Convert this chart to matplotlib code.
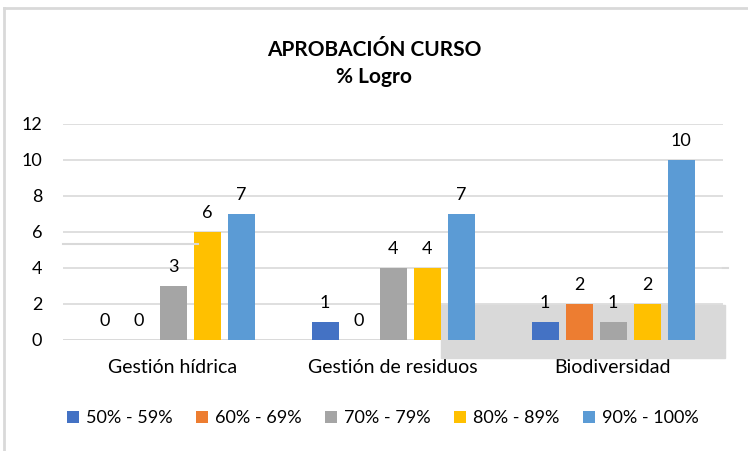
import numpy as np
import matplotlib.pyplot as plt
from matplotlib.patches import Rectangle
from matplotlib.lines import Line2D

plt.rcParams['font.family'] = ['Lato', 'DejaVu Sans']

categorias = ['Gestión hídrica', 'Gestión de residuos', 'Biodiversidad']
rangos = ['50% - 59%', '60% - 69%', '70% - 79%', '80% - 89%', '90% - 100%']
r50 = [0, 1, 1]
r60 = [0, 0, 2]
r70 = [3, 4, 1]
r80 = [6, 4, 2]
r90 = [7, 7, 10]
colores = ['#4472C4', '#ED7D31', '#A5A5A5', '#FFC000', '#5B9BD5']

series = [r50, r60, r70, r80, r90]

fig = plt.figure(figsize=(7.48, 4.51), dpi=100)
ax = fig.add_axes([63 / 748, 111 / 451, 660 / 748, 216 / 451])

# marco del grafico
fig.add_artist(Line2D([4 / 748, 4 / 748], [0, 1 - 8 / 451], color='#d9d9d9', lw=2))
fig.add_artist(Line2D([4 / 748, 1], [1 - 8 / 451, 1 - 8 / 451], color='#d9d9d9', lw=2))

x = np.arange(len(categorias))
ancho = 27 / 220
paso = 34 / 220
for i, (vals, color, nombre) in enumerate(zip(series, colores, rangos)):
    pos = x + (i - 2) * paso
    barras = ax.bar(pos, vals, width=ancho, color=color, label=nombre, zorder=3)
    for b, v in zip(barras, vals):
        ax.annotate(str(v), (b.get_x() + b.get_width() / 2, v),
                    xytext=(0, 8), textcoords='offset points',
                    ha='center', va='bottom', fontsize=13, color='#000000')

# recuadro gris detras de las barras y lineas sueltas
ax.add_patch(Rectangle((441 / 748, 1 - 358 / 451), 284 / 748, 53 / 451,
                       color='#d9d9d9', transform=fig.transFigure,
                       clip_on=False, zorder=2.5))
fig.add_artist(Line2D([63 / 748, 198 / 748], [1 - 244 / 451, 1 - 244 / 451],
                      color='#d9d9d9', lw=1.5))
fig.add_artist(Line2D([723 / 748, 728 / 748], [1 - 268 / 451, 1 - 268 / 451],
                      color='#d9d9d9', lw=1.5))

ax.set_xlim(-0.5, 2.5)
ax.set_ylim(0, 12)
ax.set_yticks(range(0, 13, 2))
ax.grid(axis='y', color='#d9d9d9', lw=1.2, zorder=0)
ax.set_axisbelow(True)
for s in ax.spines.values():
    s.set_visible(False)
ax.axhline(0, color='#d9d9d9', lw=1.2, zorder=1)
ax.set_xticks(x)
ax.set_xticklabels(categorias)
ax.tick_params(axis='y', length=0, pad=15, labelsize=13)
ax.tick_params(axis='x', length=0, pad=14, labelsize=14)

fig.text(0.5, 1 - 50 / 451, 'APROBACIÓN CURSO', ha='center', va='center',
         fontsize=15, fontweight='bold')
fig.text(0.5, 1 - 77 / 451, '% Logro', ha='center', va='center',
         fontsize=15, fontweight='bold')

fig.legend(loc='center', bbox_to_anchor=(383 / 748, 1 - 418 / 451), ncol=5,
           frameon=False, fontsize=13, handlelength=0.65, handleheight=0.65,
           handletextpad=0.4, columnspacing=1.3)

fig.savefig('out.png', dpi=100)
